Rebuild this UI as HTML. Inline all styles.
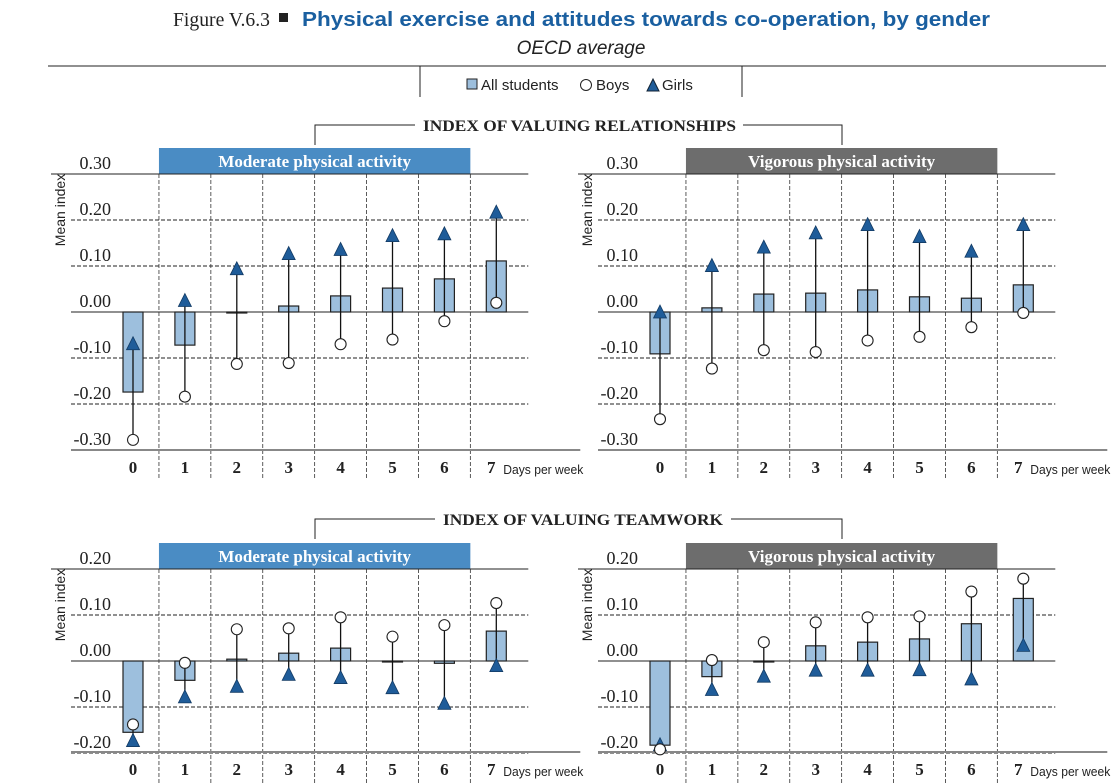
<!DOCTYPE html>
<html><head><meta charset="utf-8"><style>
body{margin:0;background:#fff;width:1118px;height:784px;overflow:hidden}
svg{display:block}
</style></head><body>
<svg id="chart" width="1118" height="784" viewBox="0 0 1118 784" xmlns="http://www.w3.org/2000/svg">
<g>
<text x="173" y="26" font-family="Liberation Serif, serif" font-size="20" fill="#222" textLength="97" lengthAdjust="spacingAndGlyphs">Figure V.6.3</text>
<rect x="279" y="13" width="9" height="9" fill="#222"/>
<text x="302" y="26" font-family="Liberation Sans, sans-serif" font-weight="bold" font-size="20" fill="#1a5fa0" textLength="688" lengthAdjust="spacingAndGlyphs">Physical exercise and attitudes towards co-operation, by gender</text>
</g>
<text x="581" y="54" text-anchor="middle" font-family="Liberation Sans, sans-serif" font-style="italic" font-size="19" fill="#222">OECD average</text>
<line x1="48" y1="66" x2="1106" y2="66" stroke="#222" stroke-width="1"/>
<g>
<line x1="420" y1="66" x2="420" y2="97" stroke="#222"/>
<line x1="742" y1="66" x2="742" y2="97" stroke="#222"/>
<rect x="467" y="79" width="10" height="10" fill="#9dbfdd" stroke="#222"/>
<text x="481" y="90" font-family="Liberation Sans, sans-serif" font-size="15" fill="#222">All students</text>
<circle cx="586" cy="85" r="5.5" fill="#fff" stroke="#222"/>
<text x="596" y="90" font-family="Liberation Sans, sans-serif" font-size="15" fill="#222">Boys</text>
<polygon points="653,79 659,91 647,91" fill="#1f5c99" stroke="#123"/>
<text x="662" y="90" font-family="Liberation Sans, sans-serif" font-size="15" fill="#222">Girls</text>
</g>
<g>
<polyline points="315,145 315,125 415,125" fill="none" stroke="#222"/>
<polyline points="743,125 842,125 842,145" fill="none" stroke="#222"/>
<text x="423" y="131" font-family="Liberation Serif, serif" font-weight="bold" font-size="16" fill="#222" textLength="313" lengthAdjust="spacingAndGlyphs">INDEX OF VALUING RELATIONSHIPS</text>
</g>
<g>
<polyline points="315,539 315,519 435,519" fill="none" stroke="#222"/>
<polyline points="731,519 842,519 842,539" fill="none" stroke="#222"/>
<text x="443" y="525" font-family="Liberation Serif, serif" font-weight="bold" font-size="16" fill="#222" textLength="280" lengthAdjust="spacingAndGlyphs">INDEX OF VALUING TEAMWORK</text>
</g>
</svg>
<script>
const categories = ["0","1","2","3","4","5","6","7"];
const relModAll   = [-0.174,-0.072,-0.002,0.013,0.035,0.052,0.072,0.111];
const relModBoys  = [-0.278,-0.184,-0.113,-0.111,-0.070,-0.060,-0.020,0.020];
const relModGirls = [-0.069,0.025,0.094,0.127,0.136,0.166,0.170,0.217];
const relVigAll   = [-0.091,0.009,0.039,0.041,0.048,0.033,0.030,0.059];
const relVigBoys  = [-0.233,-0.123,-0.083,-0.087,-0.062,-0.054,-0.033,-0.002];
const relVigGirls = [0.000,0.101,0.141,0.172,0.190,0.164,0.132,0.190];
const teamModAll   = [-0.155,-0.042,0.004,0.017,0.028,0.000,-0.005,0.065];
const teamModBoys  = [-0.138,-0.004,0.069,0.071,0.095,0.053,0.078,0.126];
const teamModGirls = [-0.173,-0.078,-0.055,-0.029,-0.036,-0.058,-0.092,-0.010];
const teamVigAll   = [-0.183,-0.034,0.000,0.033,0.041,0.048,0.081,0.136];
const teamVigBoys  = [-0.192,0.002,0.041,0.084,0.095,0.097,0.151,0.179];
const teamVigGirls = [-0.182,-0.062,-0.033,-0.020,-0.020,-0.019,-0.039,0.034];
const relTicks  = ["0.30","0.20","0.10","0.00","-0.10","-0.20","-0.30"];
const teamTicks = ["0.20","0.10","0.00","-0.10","-0.20"];

const NS = "http://www.w3.org/2000/svg";
const svg = document.getElementById('chart');
function mk(tag, attrs, parent){
  const e = document.createElementNS(NS, tag);
  for (const k in attrs) e.setAttribute(k, attrs[k]);
  (parent||svg).appendChild(e);
  return e;
}
function panel(o){
  const g = mk('g', {});
  
  
  const x0 = o.x0, s = o.step, zy = o.zeroY, k = 460;
  const yS = v => zy - v*k;
  const xS = i => x0 + s*i;
  const tickVals = o.ticks.map(t => parseFloat(t));
  const topY = yS(tickVals[0]);
  const left = x0 - 62, right = x0 + 7*s + 32;
  const axisY = o.axisY;
  const hb = mk('rect', {x:xS(0)+s/2, y:topY-26, width:6*s, height:26, fill:o.color}, g);
  
  
  const ht = mk('text', {x:xS(3.5), y:topY-7, 'text-anchor':'middle', 'font-family':'Liberation Serif, serif', 'font-weight':'bold', 'font-size':'17', fill:'#fff'}, g);
  ht.textContent = o.header;
  
  
  tickVals.forEach((v,i) => {
    const y = yS(v);
    const solid = (i===0 || v===0);
    mk('line', {x1: i===0 ? left-20 : left, x2: right, y1:y, y2:y, stroke:'#222', 'stroke-width':1, 'stroke-dasharray': solid ? '' : '4,2'}, g);
    const t = mk('text', {x:x0-22, y:y-5, 'text-anchor':'end', 'font-family':'Liberation Serif, serif', 'font-size':'18', fill:'#222'}, g);
    t.textContent = o.ticks[i];
    
    
  });
  for (let i=0;i<7;i++){
    mk('line', {x1:xS(i)+s/2, x2:xS(i)+s/2, y1:topY, y2:o.vEnd, stroke:'#333', 'stroke-width':0.8, 'stroke-dasharray':'4,2'}, g);
  }
  mk('line', {x1:left, x2:right+52, y1:axisY, y2:axisY, stroke:'#888', 'stroke-width':2}, g);
  const yt = mk('text', {x:0, y:0, transform:`translate(${x0-68},${topY+36}) rotate(-90)`, 'text-anchor':'middle', 'font-family':'Liberation Sans, sans-serif', 'font-size':'14', fill:'#222'}, g);
  yt.textContent = 'Mean index';
  
  
  categories.forEach((c,i) => {
    const t = mk('text', {x:xS(i) - (i===7 ? 5 : 0), y:axisY+23, 'text-anchor':'middle', 'font-family':'Liberation Serif, serif', 'font-weight':'bold', 'font-size':'17', fill:'#222'}, g);
    t.textContent = c;
    
    
  });
  const dp = mk('text', {x:xS(7)+7, y:axisY+24, 'font-family':'Liberation Sans, sans-serif', 'font-size':'13', fill:'#222', textLength:'80', lengthAdjust:'spacingAndGlyphs'}, g);
  dp.textContent = 'Days per week';
  
  
  o.all.forEach((v,i) => {
    const y1 = Math.min(yS(v), zy), h = Math.max(Math.abs(yS(v)-zy), 1);
    const r = mk('rect', {x:xS(i)-10, y:y1, width:20, height:h, fill:'#9dbfdd', stroke:'#222', 'stroke-width':1.2}, g);
    
    
  });
  o.all.forEach((v,i) => {
    mk('line', {x1:xS(i), x2:xS(i), y1:yS(o.boys[i]), y2:yS(o.girls[i]), stroke:'#111', 'stroke-width':1.3}, g);
  });
  o.girls.forEach((v,i) => {
    const x = xS(i), y = yS(v);
    const p = mk('polygon', {points:`${x},${y-7} ${x+6.5},${y+6} ${x-6.5},${y+6}`, fill:'#1f5c99', stroke:'#123a63', 'stroke-width':0.8}, g);
    
    
  });
  o.boys.forEach((v,i) => {
    const c = mk('circle', {cx:xS(i), cy:yS(v), r:5.5, fill:'#fff', stroke:'#222', 'stroke-width':1.1}, g);
    
    
  });
}
panel({name:'relationships-moderate-panel', x0:133, step:51.9, zeroY:312, axisY:450, vEnd:480, ticks:relTicks, all:relModAll, boys:relModBoys, girls:relModGirls, header:'Moderate physical activity', color:'#4a8cc4'});
panel({name:'relationships-vigorous-panel', x0:660, step:51.9, zeroY:312, axisY:450, vEnd:480, ticks:relTicks, all:relVigAll, boys:relVigBoys, girls:relVigGirls, header:'Vigorous physical activity', color:'#6d6d6d'});
panel({name:'teamwork-moderate-panel', x0:133, step:51.9, zeroY:661, axisY:752, vEnd:784, ticks:teamTicks, all:teamModAll, boys:teamModBoys, girls:teamModGirls, header:'Moderate physical activity', color:'#4a8cc4'});
panel({name:'teamwork-vigorous-panel', x0:660, step:51.9, zeroY:661, axisY:752, vEnd:784, ticks:teamTicks, all:teamVigAll, boys:teamVigBoys, girls:teamVigGirls, header:'Vigorous physical activity', color:'#6d6d6d'});
</script>
</body></html>
